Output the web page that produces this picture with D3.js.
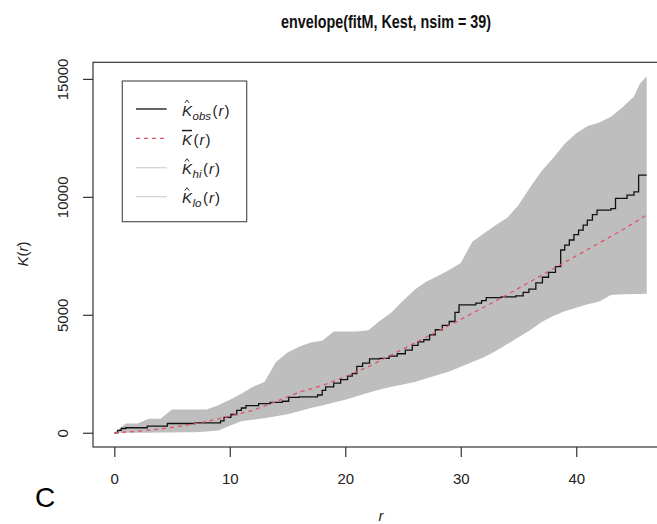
<!DOCTYPE html>
<html>
<head>
<meta charset="utf-8">
<script src="https://cdn.jsdelivr.net/npm/d3@7"></script>
<style>
  html, body { margin: 0; padding: 0; background: #fff; }
  svg { display: block; font-family: "Liberation Sans", Arial, Helvetica, sans-serif; }
</style>
</head>
<body>
<svg id="chart" width="657" height="524"></svg>
<script>
// ---- data ----
const title = "envelope(fitM, Kest, nsim = 39)";
const xTicks = [0, 10, 20, 30, 40];
const yTicks = [0, 5000, 10000, 15000];

// observed K (step function)
const rObs = [0, 0.3, 0.6, 1.0, 2.85, 4.6, 7.0, 9.2, 9.5, 10.1, 10.6, 11.0, 11.4, 12.5, 13.5, 14.55, 15.1, 16.0, 17.6, 18.0, 18.3, 19.0, 19.6, 20.2, 20.6, 21.0, 21.5, 22.1, 23.0, 23.8, 24.5, 25.2, 25.8, 26.3, 26.8, 27.3, 27.8, 28.4, 29.0, 29.5, 29.85, 31.3, 31.8, 32.2, 33.5, 34.76, 35.4, 35.9, 36.5, 37.07, 37.6, 38.2, 38.65, 39.0, 39.4, 39.8, 40.2, 40.6, 40.96, 41.4, 41.8, 43.0, 43.4, 44.4, 45.0, 45.4, 46.1];
const kObs = [0, 100, 180, 211, 280, 393, 420, 500, 650, 773, 950, 1050, 1154, 1238, 1290, 1336, 1500, 1520, 1600, 1800, 1944, 2100, 2250, 2400, 2506, 2815, 2950, 3128, 3150, 3250, 3350, 3500, 3700, 3850, 3943, 4150, 4366, 4550, 4717, 5100, 5423, 5494, 5600, 5730, 5760, 5803, 5950, 6086, 6350, 6593, 6800, 7041, 7747, 7950, 8170, 8400, 8593, 8800, 9015, 9250, 9438, 9500, 9932, 10072, 10212, 10917, 10917];

// simulation envelope
const envR  = [0, 1, 2, 3, 4, 5, 6, 7, 8, 9, 10, 11, 12, 13, 14, 15, 16, 17, 18, 19, 20, 21, 22, 23, 24, 25, 26, 27, 28, 29, 30, 31, 32, 33, 34, 35, 36, 37, 38, 39, 40, 41, 42, 43, 44, 45, 45.5, 46, 46.1];
const envHi = [0, 393, 393, 592, 592, 985, 985, 985, 985, 1167, 1400, 1650, 1950, 2150, 3000, 3400, 3650, 3830, 3900, 4294, 4294, 4294, 4350, 4750, 5100, 5600, 6057, 6400, 6650, 6900, 7200, 8100, 8450, 8800, 9100, 9650, 10400, 11100, 11650, 12250, 12700, 13000, 13150, 13400, 13800, 14250, 14800, 15050, 15100];
const envLo = [0, 0, 0, 0, 10, 15, 20, 25, 50, 100, 300, 490, 550, 620, 700, 780, 913, 1050, 1150, 1280, 1400, 1550, 1700, 1830, 1950, 2050, 2150, 2300, 2450, 2600, 2800, 3000, 3200, 3450, 3750, 4050, 4350, 4700, 4950, 5150, 5300, 5450, 5560, 5840, 5870, 5880, 5885, 5890, 5890];

// mean of simulations
const rTheo = [0, 2, 4, 6, 8, 10, 12, 14, 16, 18, 20, 22, 24, 26, 28, 30, 32, 34, 36, 38, 40, 42, 44, 46.1];
const kTheo = [0, 60, 160, 300, 480, 700, 950, 1320, 1720, 2000, 2380, 2800, 3300, 3800, 4300, 4800, 5320, 5850, 6400, 6950, 7500, 8050, 8600, 9230];

// legend entries
const legSubs = ["obs", null, "hi", "lo"];
const legColors = ["#111", "#DF536B", "#d3d3d3", "#d3d3d3"];

// ---- drawing ----
const svg = d3.select("#chart");
const mLeft = 93, mRight = 668, mTop = 62.3, mBottom = 447;

const rMax = d3.max(rObs);
const x = d3.scaleLinear().domain([-0.04 * rMax, 1.04 * rMax]).range([mLeft, mRight]);
const yMax = d3.max(envHi);
const y = d3.scaleLinear().domain([-0.04 * yMax, 1.04 * yMax]).range([mBottom, mTop]);

// envelope
const envData = envR.map((r, i) => ({ r, hi: envHi[i], lo: envLo[i] }));
svg.append("path")
  .datum(envData)
  .attr("fill", "#bebebe")
  .attr("d", d3.area().x(d => x(d.r)).y0(d => y(d.lo)).y1(d => y(d.hi)));

// observed
const obsData = rObs.map((r, i) => ({ r, k: kObs[i] }));
svg.append("path")
  .datum(obsData)
  .attr("fill", "none")
  .attr("stroke", "#111")
  .attr("stroke-width", 1.3)
  .attr("d", d3.line().x(d => x(d.r)).y(d => y(d.k)).curve(d3.curveStepAfter));

// mean of simulations
const theoData = rTheo.map((r, i) => ({ r, k: kTheo[i] }));
svg.append("path")
  .datum(theoData)
  .attr("fill", "none")
  .attr("stroke", "#DF536B")
  .attr("stroke-width", 1.3)
  .attr("stroke-dasharray", "4,4")
  .attr("d", d3.line().x(d => x(d.r)).y(d => y(d.k)));

// box
svg.append("rect")
  .attr("x", mLeft).attr("y", mTop)
  .attr("width", mRight - mLeft).attr("height", mBottom - mTop)
  .attr("fill", "none").attr("stroke", "#333").attr("stroke-width", 1.2);

// x axis
const gx = svg.append("g")
  .attr("transform", `translate(0,${mBottom})`)
  .call(d3.axisBottom(x).tickValues(xTicks).tickSize(10).tickSizeOuter(0).tickPadding(16.3).tickFormat(d3.format("d")));
gx.select(".domain").remove();
gx.selectAll(".tick line").attr("stroke", "#333").attr("stroke-width", 1.2);
gx.selectAll(".tick text").attr("font-size", 15).attr("fill", "#222").attr("font-family", null);

// y axis
const gy = svg.append("g")
  .attr("transform", `translate(${mLeft},0)`)
  .call(d3.axisLeft(y).tickValues(yTicks).tickSize(10).tickSizeOuter(0).tickFormat(d3.format("d")));
gy.select(".domain").remove();
gy.selectAll(".tick line").attr("stroke", "#333").attr("stroke-width", 1.2);
gy.selectAll(".tick text")
  .attr("x", 0).attr("dy", 0)
  .attr("text-anchor", "middle")
  .attr("transform", "translate(-25.5,0) rotate(-90)")
  .attr("font-size", 15).attr("fill", "#222").attr("font-family", null);

// title
svg.append("text")
  .attr("x", 386).attr("y", 28)
  .attr("text-anchor", "middle")
  .attr("font-family", "'Liberation Sans Narrow', 'Liberation Sans', Arial, sans-serif")
  .attr("font-size", 18).attr("font-weight", "bold").attr("fill", "#111")
  .attr("textLength", 210).attr("lengthAdjust", "spacingAndGlyphs")
  .text(title);

// axis titles
const xl = svg.append("text")
  .attr("x", 381).attr("y", 521)
  .attr("text-anchor", "middle").attr("font-size", 15).attr("fill", "#222");
xl.append("tspan").attr("font-style", "italic").text("r");

const yl = svg.append("text")
  .attr("transform", "translate(28,254) rotate(-90)")
  .attr("text-anchor", "middle").attr("font-size", 15).attr("fill", "#222");
yl.append("tspan").attr("font-style", "italic").text("K");
yl.append("tspan").text("(");
yl.append("tspan").attr("font-style", "italic").text("r");
yl.append("tspan").text(")");

// panel letter
svg.append("text")
  .attr("x", 35).attr("y", 507)
  .attr("font-size", 28).attr("fill", "#000")
  .text("C");

// legend
const legY = [109, 138.3, 167.7, 196.7];
svg.append("rect")
  .attr("x", 122.3).attr("y", 81).attr("width", 124.4).attr("height", 140.7)
  .attr("fill", "#fff").attr("stroke", "#555").attr("stroke-width", 1.2);
legSubs.forEach((sub, i) => {
  const yy = legY[i];
  svg.append("line")
    .attr("x1", 136).attr("x2", 166.7).attr("y1", yy).attr("y2", yy)
    .attr("stroke", legColors[i]).attr("stroke-width", 1.3)
    .attr("stroke-dasharray", i === 1 ? "4,4" : null);
  const t = svg.append("text")
    .attr("x", 182).attr("y", yy + 6.5)
    .attr("font-size", 15).attr("fill", "#222");
  const k = t.append("tspan").attr("font-style", "italic").text("K");
  if (sub) {
    t.append("tspan").attr("font-style", "italic").attr("font-size", 11.5).attr("dx", 0.5).attr("dy", 4).text(sub);
    t.append("tspan").attr("dy", -4).attr("dx", 1.5).text("(");
    // hat accent over K
    svg.append("path")
      .attr("d", `M${184.8},${yy - 6} L${187},${yy - 9} L${189.2},${yy - 6}`)
      .attr("fill", "none").attr("stroke", "#222").attr("stroke-width", 0.9);
  } else {
    k.style("text-decoration", "overline");
    t.append("tspan").attr("dx", 1.5).text("(");
  }
  t.append("tspan").attr("font-style", "italic").attr("dx", 1).text("r");
  t.append("tspan").attr("dx", 1).text(")");
});
</script>
</body>
</html>
